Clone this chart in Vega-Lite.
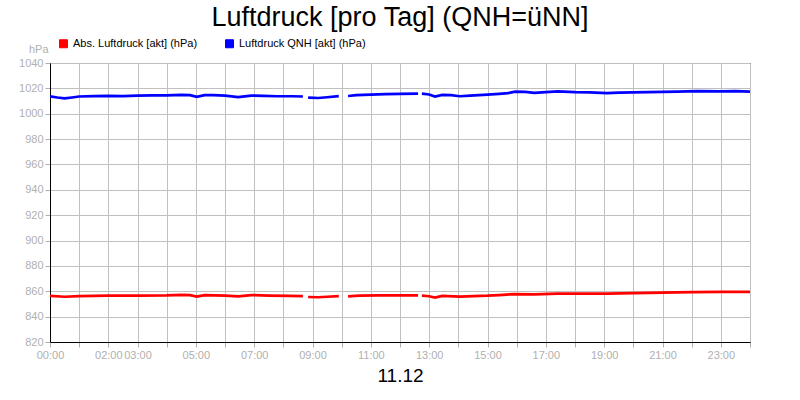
{
  "$schema": "https://vega.github.io/schema/vega-lite/v6.json",
  "width": 700,
  "height": 279,
  "autosize": {"type": "none"},
  "padding": {"left": 50, "top": 63, "right": 50, "bottom": 58},
  "background": "white",
  "title": {"text": "Luftdruck [pro Tag] (QNH=üNN]", "fontSize": 27, "fontWeight": "normal", "font": "Liberation Sans", "color": "black", "anchor": "middle", "offset": 6},
  "datasets": {
    "d": [
      {"t": 0.0, "s": "Luftdruck QNH [akt] (hPa)", "g": 1, "v": 1013.7},
      {"t": 0.25, "s": "Luftdruck QNH [akt] (hPa)", "g": 1, "v": 1012.8},
      {"t": 0.5, "s": "Luftdruck QNH [akt] (hPa)", "g": 1, "v": 1012.1},
      {"t": 0.75, "s": "Luftdruck QNH [akt] (hPa)", "g": 1, "v": 1012.8},
      {"t": 1.0, "s": "Luftdruck QNH [akt] (hPa)", "g": 1, "v": 1013.6},
      {"t": 1.5, "s": "Luftdruck QNH [akt] (hPa)", "g": 1, "v": 1013.9},
      {"t": 2.0, "s": "Luftdruck QNH [akt] (hPa)", "g": 1, "v": 1014.1},
      {"t": 2.5, "s": "Luftdruck QNH [akt] (hPa)", "g": 1, "v": 1013.9},
      {"t": 3.0, "s": "Luftdruck QNH [akt] (hPa)", "g": 1, "v": 1014.2},
      {"t": 3.5, "s": "Luftdruck QNH [akt] (hPa)", "g": 1, "v": 1014.4},
      {"t": 4.0, "s": "Luftdruck QNH [akt] (hPa)", "g": 1, "v": 1014.4},
      {"t": 4.5, "s": "Luftdruck QNH [akt] (hPa)", "g": 1, "v": 1014.9},
      {"t": 4.8, "s": "Luftdruck QNH [akt] (hPa)", "g": 1, "v": 1014.6},
      {"t": 5.03, "s": "Luftdruck QNH [akt] (hPa)", "g": 1, "v": 1013.3},
      {"t": 5.3, "s": "Luftdruck QNH [akt] (hPa)", "g": 1, "v": 1014.6},
      {"t": 5.6, "s": "Luftdruck QNH [akt] (hPa)", "g": 1, "v": 1014.7},
      {"t": 6.0, "s": "Luftdruck QNH [akt] (hPa)", "g": 1, "v": 1014.2},
      {"t": 6.45, "s": "Luftdruck QNH [akt] (hPa)", "g": 1, "v": 1013.1},
      {"t": 6.9, "s": "Luftdruck QNH [akt] (hPa)", "g": 1, "v": 1014.3},
      {"t": 7.3, "s": "Luftdruck QNH [akt] (hPa)", "g": 1, "v": 1014.1},
      {"t": 7.8, "s": "Luftdruck QNH [akt] (hPa)", "g": 1, "v": 1013.8},
      {"t": 8.3, "s": "Luftdruck QNH [akt] (hPa)", "g": 1, "v": 1013.8},
      {"t": 8.67, "s": "Luftdruck QNH [akt] (hPa)", "g": 1, "v": 1013.6},
      {"t": 8.85, "s": "Luftdruck QNH [akt] (hPa)", "g": 2, "v": 1012.7},
      {"t": 9.2, "s": "Luftdruck QNH [akt] (hPa)", "g": 2, "v": 1012.4},
      {"t": 9.5, "s": "Luftdruck QNH [akt] (hPa)", "g": 2, "v": 1013.0},
      {"t": 9.9, "s": "Luftdruck QNH [akt] (hPa)", "g": 2, "v": 1013.9},
      {"t": 10.22, "s": "Luftdruck QNH [akt] (hPa)", "g": 3, "v": 1014.0},
      {"t": 10.5, "s": "Luftdruck QNH [akt] (hPa)", "g": 3, "v": 1014.6},
      {"t": 11.0, "s": "Luftdruck QNH [akt] (hPa)", "g": 3, "v": 1015.0},
      {"t": 11.5, "s": "Luftdruck QNH [akt] (hPa)", "g": 3, "v": 1015.4},
      {"t": 12.0, "s": "Luftdruck QNH [akt] (hPa)", "g": 3, "v": 1015.6},
      {"t": 12.62, "s": "Luftdruck QNH [akt] (hPa)", "g": 3, "v": 1015.9},
      {"t": 12.75, "s": "Luftdruck QNH [akt] (hPa)", "g": 4, "v": 1015.8},
      {"t": 13.0, "s": "Luftdruck QNH [akt] (hPa)", "g": 4, "v": 1015.2},
      {"t": 13.2, "s": "Luftdruck QNH [akt] (hPa)", "g": 4, "v": 1013.5},
      {"t": 13.45, "s": "Luftdruck QNH [akt] (hPa)", "g": 4, "v": 1014.8},
      {"t": 13.75, "s": "Luftdruck QNH [akt] (hPa)", "g": 4, "v": 1014.6},
      {"t": 14.05, "s": "Luftdruck QNH [akt] (hPa)", "g": 4, "v": 1013.8},
      {"t": 14.4, "s": "Luftdruck QNH [akt] (hPa)", "g": 4, "v": 1014.3},
      {"t": 15.0, "s": "Luftdruck QNH [akt] (hPa)", "g": 4, "v": 1015.0},
      {"t": 15.4, "s": "Luftdruck QNH [akt] (hPa)", "g": 4, "v": 1015.6},
      {"t": 15.7, "s": "Luftdruck QNH [akt] (hPa)", "g": 4, "v": 1016.2},
      {"t": 15.95, "s": "Luftdruck QNH [akt] (hPa)", "g": 4, "v": 1017.4},
      {"t": 16.3, "s": "Luftdruck QNH [akt] (hPa)", "g": 4, "v": 1017.2},
      {"t": 16.6, "s": "Luftdruck QNH [akt] (hPa)", "g": 4, "v": 1016.4},
      {"t": 17.0, "s": "Luftdruck QNH [akt] (hPa)", "g": 4, "v": 1017.0},
      {"t": 17.4, "s": "Luftdruck QNH [akt] (hPa)", "g": 4, "v": 1017.6},
      {"t": 18.0, "s": "Luftdruck QNH [akt] (hPa)", "g": 4, "v": 1017.0},
      {"t": 18.5, "s": "Luftdruck QNH [akt] (hPa)", "g": 4, "v": 1016.8},
      {"t": 19.1, "s": "Luftdruck QNH [akt] (hPa)", "g": 4, "v": 1016.3},
      {"t": 19.5, "s": "Luftdruck QNH [akt] (hPa)", "g": 4, "v": 1016.6},
      {"t": 20.0, "s": "Luftdruck QNH [akt] (hPa)", "g": 4, "v": 1016.8},
      {"t": 20.5, "s": "Luftdruck QNH [akt] (hPa)", "g": 4, "v": 1017.0},
      {"t": 21.0, "s": "Luftdruck QNH [akt] (hPa)", "g": 4, "v": 1017.2},
      {"t": 21.5, "s": "Luftdruck QNH [akt] (hPa)", "g": 4, "v": 1017.4},
      {"t": 22.2, "s": "Luftdruck QNH [akt] (hPa)", "g": 4, "v": 1017.8},
      {"t": 23.0, "s": "Luftdruck QNH [akt] (hPa)", "g": 4, "v": 1017.6},
      {"t": 23.5, "s": "Luftdruck QNH [akt] (hPa)", "g": 4, "v": 1017.8},
      {"t": 24.0, "s": "Luftdruck QNH [akt] (hPa)", "g": 4, "v": 1017.4},

      {"t": 0.0, "s": "Abs. Luftdruck [akt] (hPa)", "g": 1, "v": 856.3},
      {"t": 0.5, "s": "Abs. Luftdruck [akt] (hPa)", "g": 1, "v": 855.7},
      {"t": 1.0, "s": "Abs. Luftdruck [akt] (hPa)", "g": 1, "v": 856.2},
      {"t": 2.0, "s": "Abs. Luftdruck [akt] (hPa)", "g": 1, "v": 856.5},
      {"t": 3.0, "s": "Abs. Luftdruck [akt] (hPa)", "g": 1, "v": 856.6},
      {"t": 4.0, "s": "Abs. Luftdruck [akt] (hPa)", "g": 1, "v": 856.7},
      {"t": 4.5, "s": "Abs. Luftdruck [akt] (hPa)", "g": 1, "v": 857.1},
      {"t": 4.8, "s": "Abs. Luftdruck [akt] (hPa)", "g": 1, "v": 857.0},
      {"t": 5.03, "s": "Abs. Luftdruck [akt] (hPa)", "g": 1, "v": 855.8},
      {"t": 5.3, "s": "Abs. Luftdruck [akt] (hPa)", "g": 1, "v": 857.0},
      {"t": 6.0, "s": "Abs. Luftdruck [akt] (hPa)", "g": 1, "v": 856.6},
      {"t": 6.45, "s": "Abs. Luftdruck [akt] (hPa)", "g": 1, "v": 856.0},
      {"t": 6.9, "s": "Abs. Luftdruck [akt] (hPa)", "g": 1, "v": 857.0},
      {"t": 7.5, "s": "Abs. Luftdruck [akt] (hPa)", "g": 1, "v": 856.6},
      {"t": 8.2, "s": "Abs. Luftdruck [akt] (hPa)", "g": 1, "v": 856.4},
      {"t": 8.67, "s": "Abs. Luftdruck [akt] (hPa)", "g": 1, "v": 856.2},
      {"t": 8.85, "s": "Abs. Luftdruck [akt] (hPa)", "g": 2, "v": 855.5},
      {"t": 9.2, "s": "Abs. Luftdruck [akt] (hPa)", "g": 2, "v": 855.3},
      {"t": 9.5, "s": "Abs. Luftdruck [akt] (hPa)", "g": 2, "v": 855.7},
      {"t": 9.9, "s": "Abs. Luftdruck [akt] (hPa)", "g": 2, "v": 856.2},
      {"t": 10.22, "s": "Abs. Luftdruck [akt] (hPa)", "g": 3, "v": 856.0},
      {"t": 10.6, "s": "Abs. Luftdruck [akt] (hPa)", "g": 3, "v": 856.5},
      {"t": 11.3, "s": "Abs. Luftdruck [akt] (hPa)", "g": 3, "v": 856.8},
      {"t": 12.0, "s": "Abs. Luftdruck [akt] (hPa)", "g": 3, "v": 856.7},
      {"t": 12.62, "s": "Abs. Luftdruck [akt] (hPa)", "g": 3, "v": 856.8},
      {"t": 12.75, "s": "Abs. Luftdruck [akt] (hPa)", "g": 4, "v": 856.6},
      {"t": 13.0, "s": "Abs. Luftdruck [akt] (hPa)", "g": 4, "v": 856.1},
      {"t": 13.2, "s": "Abs. Luftdruck [akt] (hPa)", "g": 4, "v": 855.0},
      {"t": 13.45, "s": "Abs. Luftdruck [akt] (hPa)", "g": 4, "v": 856.3},
      {"t": 14.05, "s": "Abs. Luftdruck [akt] (hPa)", "g": 4, "v": 855.8},
      {"t": 15.0, "s": "Abs. Luftdruck [akt] (hPa)", "g": 4, "v": 856.5},
      {"t": 15.4, "s": "Abs. Luftdruck [akt] (hPa)", "g": 4, "v": 857.0},
      {"t": 15.9, "s": "Abs. Luftdruck [akt] (hPa)", "g": 4, "v": 857.8},
      {"t": 16.6, "s": "Abs. Luftdruck [akt] (hPa)", "g": 4, "v": 857.6},
      {"t": 17.4, "s": "Abs. Luftdruck [akt] (hPa)", "g": 4, "v": 858.1},
      {"t": 18.5, "s": "Abs. Luftdruck [akt] (hPa)", "g": 4, "v": 858.2},
      {"t": 19.1, "s": "Abs. Luftdruck [akt] (hPa)", "g": 4, "v": 858.1},
      {"t": 20.0, "s": "Abs. Luftdruck [akt] (hPa)", "g": 4, "v": 858.5},
      {"t": 21.0, "s": "Abs. Luftdruck [akt] (hPa)", "g": 4, "v": 858.9},
      {"t": 22.0, "s": "Abs. Luftdruck [akt] (hPa)", "g": 4, "v": 859.3},
      {"t": 23.0, "s": "Abs. Luftdruck [akt] (hPa)", "g": 4, "v": 859.5},
      {"t": 24.0, "s": "Abs. Luftdruck [akt] (hPa)", "g": 4, "v": 859.6}
    ]
  },
  "data": {"name": "d"},
  "mark": {"type": "line", "strokeWidth": 2.7, "clip": true},
  "encoding": {
    "x": {
      "field": "t", "type": "quantitative",
      "scale": {"domain": [0, 24], "nice": false, "zero": false},
      "title": "11.12",
      "axis": {
        "values": [0,1,2,3,4,5,6,7,8,9,10,11,12,13,14,15,16,17,18,19,20,21,22,23,24],
        "labelExpr": "indexof([0,2,3,5,7,9,11,13,15,17,19,21,23], datum.value) >= 0 ? (datum.value < 10 ? '0' : '') + datum.value + ':00' : ''",
        "labelOverlap": false,
        "labelFlush": false,
        "grid": true,
        "gridColor": "#c0c0c0",
        "gridWidth": 1,
        "tickColor": "#b0b0b0",
        "tickSize": 5,
        "labelColor": "#b0b0b0",
        "labelFontSize": 11,
        "labelPadding": 2,
        "domainColor": "black",
        "titleFontSize": 19,
        "titleFontWeight": "normal",
        "titleColor": "black",
        "titlePadding": 6
      }
    },
    "y": {
      "field": "v", "type": "quantitative",
      "scale": {"domain": [820, 1040], "nice": false, "zero": false},
      "title": "hPa",
      "axis": {
        "values": [820,840,860,880,900,920,940,960,980,1000,1020,1040],
        "format": "d",
        "grid": true,
        "gridColor": "#c0c0c0",
        "gridWidth": 1,
        "tickColor": "#b0b0b0",
        "tickSize": 5,
        "labelColor": "#b0b0b0",
        "labelFontSize": 11,
        "labelPadding": 2,
        "domainColor": "black",
        "titleAngle": 0,
        "titleX": -2,
        "titleY": -14,
        "titleAlign": "right",
        "titleBaseline": "middle",
        "titleColor": "#b0b0b0",
        "titleFontSize": 11,
        "titleFontWeight": "normal"
      }
    },
    "color": {
      "field": "s", "type": "nominal",
      "scale": {"domain": ["Abs. Luftdruck [akt] (hPa)", "Luftdruck QNH [akt] (hPa)"], "range": ["#ff0000", "#0000ff"]},
      "legend": {
        "orient": "none",
        "legendX": 8,
        "legendY": -25,
        "direction": "horizontal",
        "title": null,
        "symbolType": "square",
        "symbolSize": 64,
        "symbolStrokeColor": "black",
        "symbolStrokeWidth": 1,
        "labelFontSize": 11,
        "labelColor": "black",
        "labelOffset": 4,
        "columnPadding": 25,
        "labelLimit": 300,
        "padding": 0,
        "encode": {"symbols": {"update": {"fill": {"scale": "color", "field": "value"}, "stroke": {"value": "black"}, "strokeWidth": {"value": 1}, "opacity": {"value": 1}}}}
      }
    },
    "detail": {"field": "g", "type": "nominal"}
  },
  "config": {
    "font": "Liberation Sans",
    "view": {"stroke": "black", "strokeWidth": 1}
  }
}
